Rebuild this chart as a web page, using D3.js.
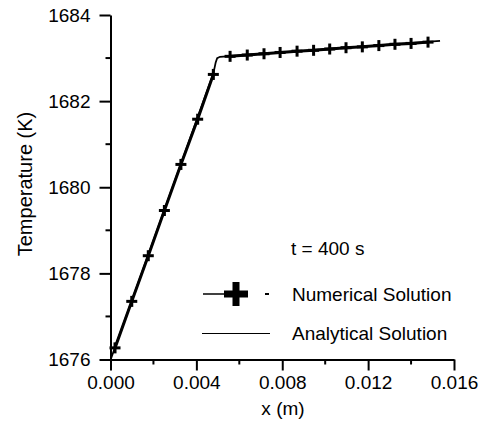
<!DOCTYPE html>
<html>
<head>
<meta charset="utf-8">
<script src="https://d3js.org/d3.v7.min.js"></script>
<style>
  body { margin: 0; background: #fff; }
  text { font-family: "Liberation Sans", Arial, sans-serif; fill: #000; }
  .axis path, .axis line { stroke: #000; stroke-width: 2px; }
</style>
</head>
<body>
<script>
// numerical solution (markers)
var numX = [0.00021, 0.00099, 0.00176, 0.00251, 0.00328, 0.00406, 0.00479,
            0.00557, 0.00637, 0.00715, 0.0079, 0.00869, 0.00946, 0.01021,
            0.01097, 0.01173, 0.0125, 0.01325, 0.0140, 0.01479];
var numT = [1676.27, 1677.35, 1678.41, 1679.46, 1680.53, 1681.58, 1682.62,
            1683.04, 1683.07, 1683.10, 1683.13, 1683.16, 1683.18, 1683.21,
            1683.24, 1683.26, 1683.29, 1683.32, 1683.34, 1683.37];
// analytical solution
var anaX = [0.0, 0.00479, 0.0049, 0.00497, 0.0051, 0.01535];
var anaT = [1675.99, 1682.64, 1682.9, 1683.0, 1683.03, 1683.40];

var xTicks = [0, 0.004, 0.008, 0.012, 0.016];
var xMinor = [0.002, 0.006, 0.010, 0.014];
var yTicks = [1676, 1678, 1680, 1682, 1684];
var yMinor = [1677, 1679, 1681, 1683];

var width = 492, height = 422;
var mLeft = 110.5, mRight = 454, mTop = 15, mBottom = 359.5;

var svg = d3.select("body").append("svg")
  .attr("width", width)
  .attr("height", height);

var x = d3.scaleLinear().domain([0, 0.016]).range([mLeft, mRight]);
var y = d3.scaleLinear().domain([1676, 1684]).range([mBottom, mTop]);

// minor ticks
svg.append("g").selectAll("line").data(xMinor).enter().append("line")
  .attr("x1", d => x(d)).attr("x2", d => x(d))
  .attr("y1", mBottom).attr("y2", mBottom + 5)
  .attr("stroke", "#000").attr("stroke-width", 2);
svg.append("g").selectAll("line").data(yMinor).enter().append("line")
  .attr("x1", mLeft - 5).attr("x2", mLeft)
  .attr("y1", d => y(d)).attr("y2", d => y(d))
  .attr("stroke", "#000").attr("stroke-width", 2);

var xAxis = svg.append("g").attr("class", "axis")
  .attr("transform", "translate(0," + mBottom + ")")
  .call(d3.axisBottom(x).tickValues(xTicks).tickFormat(d3.format(".3f"))
        .tickSizeInner(11).tickSizeOuter(0).tickPadding(5));
var yAxis = svg.append("g").attr("class", "axis")
  .attr("transform", "translate(" + mLeft + ",0)")
  .call(d3.axisLeft(y).tickValues(yTicks).tickFormat(d3.format("d"))
        .tickSizeInner(11).tickSizeOuter(0).tickPadding(9));

svg.selectAll(".axis text").style("font-size", "19px")
  .style("font-family", '"Liberation Sans", Arial, sans-serif');

// axis titles
svg.append("text")
  .attr("x", 283).attr("y", 415)
  .attr("text-anchor", "middle")
  .style("font-size", "19px")
  .text("x (m)");
svg.append("text")
  .attr("transform", "translate(32,184) rotate(-90)")
  .attr("text-anchor", "middle")
  .style("font-size", "20px")
  .text("Temperature (K)");

var anaData = anaX.map((d, i) => [d, anaT[i]]);
var numData = numX.map((d, i) => [d, numT[i]]);
var line = d3.line().x(d => x(d[0])).y(d => y(d[1]));

// numerical line: slope part and plateau part, the corner follows the analytical curve
[numData.slice(0, 7), numData.slice(7)].forEach(function(part) {
  svg.append("path").datum(part)
    .attr("d", line)
    .attr("fill", "none").attr("stroke", "#000").attr("stroke-width", 3);
});
svg.append("path").datum(anaData)
  .attr("d", line)
  .attr("fill", "none").attr("stroke", "#000").attr("stroke-width", 1.8);

// plus markers
function plus(g, cx, cy, s, w) {
  g.append("rect").attr("x", cx - s / 2).attr("y", cy - w / 2)
    .attr("width", s).attr("height", w).attr("fill", "#000");
  g.append("rect").attr("x", cx - w / 2).attr("y", cy - s / 2)
    .attr("width", w).attr("height", s).attr("fill", "#000");
}
var mk = svg.append("g");
numData.forEach(function(d) { plus(mk, x(d[0]), y(d[1]), 11, 3); });

// legend
svg.append("text").attr("x", 291).attr("y", 255)
  .style("font-size", "19px").text("t = 400 s");

var lg = svg.append("g");
lg.append("line").attr("x1", 203).attr("x2", 236).attr("y1", 294).attr("y2", 294)
  .attr("stroke", "#000").attr("stroke-width", 1.5);
plus(lg, 236, 294, 24, 7);
lg.append("line").attr("x1", 265).attr("x2", 269).attr("y1", 294).attr("y2", 294)
  .attr("stroke", "#000").attr("stroke-width", 2);
lg.append("text").attr("x", 292).attr("y", 301)
  .style("font-size", "19px").text("Numerical Solution");

lg.append("line").attr("x1", 202).attr("x2", 270).attr("y1", 333.5).attr("y2", 333.5)
  .attr("stroke", "#000").attr("stroke-width", 1.2);
lg.append("text").attr("x", 292).attr("y", 340)
  .style("font-size", "19px").text("Analytical Solution");
</script>
</body>
</html>
